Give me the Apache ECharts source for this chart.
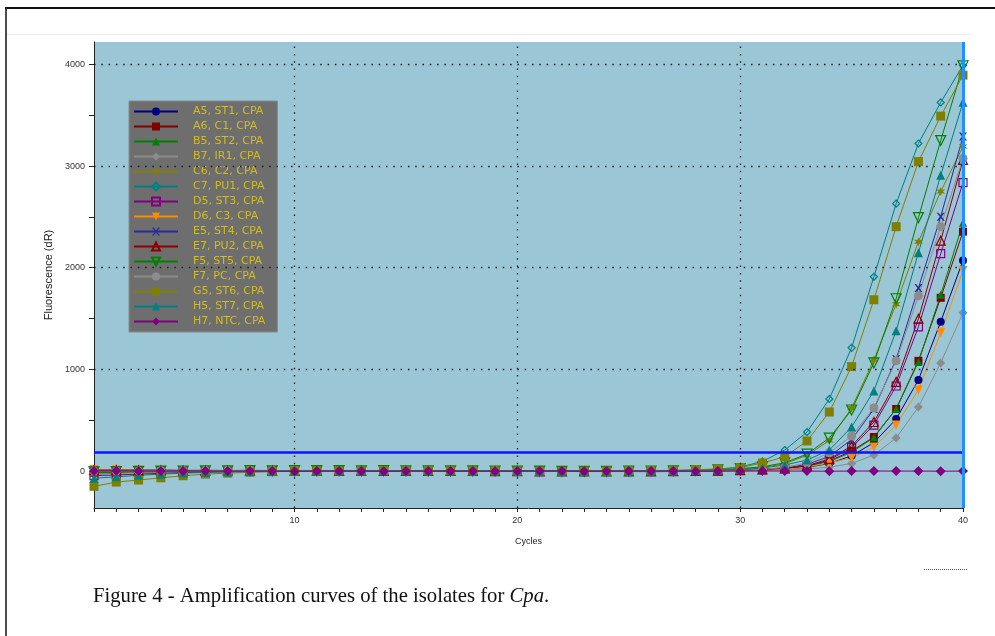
<!DOCTYPE html>
<html>
<head>
<meta charset="utf-8">
<script src="https://cdn.jsdelivr.net/npm/echarts@6/dist/echarts.min.js"></script>
<style>
  html, body { margin: 0; padding: 0; background: #ffffff; }
  #chart { width: 995px; height: 636px; }
</style>
</head>
<body>
<div id="chart"></div>
<script>
// Amplification cycles (x) and fluorescence readings (dR) per well
const cycles = [1,2,3,4,5,6,7,8,9,10,11,12,13,14,15,16,17,18,19,20,21,22,23,24,25,26,27,28,29,30,31,32,33,34,35,36,37,38,39,40];

const seriesNames = [
  'A5, ST1, CPA', 'A6, C1, CPA', 'B5, ST2, CPA', 'B7, IR1, CPA', 'C6, C2, CPA',
  'C7, PU1, CPA', 'D5, ST3, CPA', 'D6, C3, CPA', 'E5, ST4, CPA', 'E7, PU2, CPA',
  'F5, ST5, CPA', 'F7, PC, CPA', 'G5, ST6, CPA', 'H5, ST7, CPA', 'H7, NTC, CPA'
];

const A5_ST1 = [-12,-8,-4,2,0,3,2,4,3,2,4,5,3,2,1,3,4,2,1,3,2,0,-2,-3,-4,-5,-4,-2,2,8,14,22,36,75,150,280,512,897,1468,2072];
const A6_C1  = [8,10,9,8,7,8,6,7,6,5,6,4,5,6,5,3,4,5,4,2,3,1,0,-1,-2,-3,-2,0,4,10,18,28,48,100,197,335,611,1084,1704,2355];
const B5_ST2 = [-20,-14,-8,-4,-2,0,2,3,4,5,4,6,5,4,3,4,2,3,2,1,0,-1,-2,-2,-3,-3,-2,0,3,9,17,27,48,95,185,330,611,1074,1734,2443];
const B7_IR1 = [-5,-3,-2,0,1,2,3,2,3,4,3,2,3,2,1,2,1,0,1,0,-1,-2,-3,-4,-4,-5,-5,-4,-2,2,6,12,20,38,75,158,325,631,1064,1557];
const C6_C2  = [-30,-22,-15,-10,-6,-3,0,2,3,4,5,4,3,4,3,2,3,2,1,0,-1,-2,-3,-3,-2,-1,1,4,10,20,35,72,155,300,621,1094,1640,2256,2749,3192];
const C7_PU1 = [-10,-6,-3,0,2,3,4,5,4,5,4,3,4,3,2,3,2,1,2,1,0,-1,-2,-1,0,2,5,10,18,40,95,207,384,709,1212,1911,2630,3222,3626,3990];
const D5_ST3 = [-45,-38,-30,-22,-15,-10,-6,-3,-1,0,1,2,3,2,3,2,1,2,1,0,-1,-2,-3,-4,-4,-3,-2,0,3,8,14,24,48,110,230,453,837,1419,2138,2837];
const D6_C3  = [15,12,10,8,6,5,4,5,4,3,4,3,2,3,2,1,2,1,0,-1,-2,-3,-4,-5,-5,-4,-3,-1,1,5,10,18,40,80,130,236,453,798,1360,1973];
const E5_ST4 = [5,6,7,8,6,5,4,3,4,3,2,3,2,1,2,1,0,1,0,-1,-2,-2,-3,-3,-2,-1,0,2,5,10,18,32,65,145,310,610,1100,1800,2502,3291];
const E7_PU2 = [10,9,8,7,6,5,6,5,4,5,4,3,4,3,2,3,2,1,0,-1,-2,-3,-3,-4,-3,-2,-1,1,4,9,16,26,52,120,246,483,877,1498,2266,3060];
const F5_ST5 = [-8,-5,-2,0,1,2,3,4,3,4,5,4,3,4,3,2,3,2,1,0,-1,-2,-3,-2,-1,1,3,6,12,24,42,82,167,325,601,1064,1695,2493,3251,3985];
const F7_PC  = [0,1,2,3,2,3,4,3,4,3,2,3,2,3,2,1,2,1,0,-1,-2,-2,-3,-3,-2,-1,0,2,5,10,18,36,80,180,345,621,1084,1724,2404,3074];
const G5_ST6 = [-150,-108,-88,-66,-46,-30,-20,-12,-6,-2,0,2,3,4,3,4,3,2,1,0,-1,-2,-1,0,2,4,8,14,22,35,79,141,296,581,1028,1685,2404,3044,3491,3894];
const H5_ST7 = [-70,-56,-42,-30,-20,-13,-8,-4,-2,0,1,2,3,2,3,2,1,2,1,0,-1,-2,-3,-3,-2,-1,1,4,8,15,30,60,108,207,433,788,1379,2148,2909,3628];
const H7_NTC = [2,3,2,1,2,1,0,1,0,-1,0,1,0,-1,0,1,0,0,-1,0,1,0,-1,0,0,1,0,-1,0,0,1,0,0,-1,0,1,0,0,-1,0];

const readings = [A5_ST1, A6_C1, B5_ST2, B7_IR1, C6_C2, C7_PU1, D5_ST3, D6_C3,
                  E5_ST4, E7_PU2, F5_ST5, F7_PC, G5_ST6, H5_ST7, H7_NTC];

const threshold = 190;
const yLabelValues = [0, 1000, 2000, 3000, 4000];
const yTickValues = [0, 500, 1000, 1500, 2000, 2500, 3000, 3500, 4000];
const xGridValues = [10, 20, 30];
const yGridValues = [1000, 2000, 3000, 4000];

// Marker shapes
const STAR = 'path://M0,-10L2.2,-3.8L8.7,-5L4.4,0L8.7,5L2.2,3.8L0,10L-2.2,3.8L-8.7,5L-4.4,0L-8.7,-5L-2.2,-3.8Z';
const CROSS = 'path://M0,0H2.2L5,3.6L7.8,0H10L6.2,5L10,10H7.8L5,6.4L2.2,10H0L3.8,5Z';

// Per-well drawing style, same order as seriesNames
const looks = [
  { color: '#000080', symbol: 'circle',   size: 8 },
  { color: '#800000', symbol: 'rect',     size: 8 },
  { color: '#008000', symbol: 'triangle', size: 8 },
  { color: '#8c8c8c', symbol: 'diamond',  size: 9 },
  { color: '#808000', symbol: STAR,       size: 9 },
  { color: '#008080', symbol: 'diamond',  size: 7, hollow: true },
  { color: '#800080', symbol: 'rect',     size: 8, hollow: true },
  { color: '#ff8c00', symbol: 'triangle', size: 9, rotate: 180 },
  { color: '#2a2a9a', symbol: CROSS,      size: 8 },
  { color: '#8b0000', symbol: 'triangle', size: 9, hollow: true },
  { color: '#008000', symbol: 'triangle', size: 10, hollow: true, rotate: 180 },
  { color: '#8c8c8c', symbol: 'circle',   size: 9 },
  { color: '#808000', symbol: 'rect',     size: 9 },
  { color: '#008080', symbol: 'triangle', size: 9 },
  { color: '#800080', symbol: 'diamond',  size: 10 }
];

const curveSeries = seriesNames.map((name, i) => {
  const lk = looks[i];
  return {
    type: 'line',
    name: name,
    data: cycles.map((c, j) => [c, readings[i][j]]),
    symbol: lk.symbol,
    symbolSize: lk.size,
    symbolRotate: lk.rotate || 0,
    showAllSymbol: true,
    lineStyle: { color: lk.color, width: 1 },
    itemStyle: lk.hollow
      ? { color: 'rgba(0,0,0,0)', borderColor: lk.color, borderWidth: 1.2 }
      : { color: lk.color, borderWidth: 0 },
    emphasis: { disabled: true },
    z: 3
  };
});

const dotted = { color: '#1a1a1a', width: 1.3, type: [1.5, 5.8] };
const guideSeries = {
  type: 'line',
  name: 'guides',
  data: [],
  silent: true,
  z: 2,
  markLine: {
    silent: true,
    symbol: ['none', 'none'],
    label: { show: false },
    emphasis: { disabled: true },
    animation: false,
    data: [
      ...yGridValues.map(v => ({ yAxis: v, lineStyle: dotted })),
      ...xGridValues.map(v => ({ xAxis: v, lineStyle: dotted })),
      { yAxis: threshold, lineStyle: { color: '#0a14ff', width: 2.5, type: 'solid' } },
      { xAxis: 40, lineStyle: { color: '#1e90ff', width: 3, type: 'solid' } }
    ]
  }
};

const serif = 'Liberation Serif, Times New Roman, serif';
const chart = echarts.init(document.getElementById('chart'), null, { renderer: 'canvas' });

chart.setOption({
  animation: false,
  backgroundColor: '#ffffff',
  textStyle: { fontFamily: 'Liberation Sans, Arial, sans-serif' },
  title: {
    left: 93,
    top: 586,
    padding: 0,
    text: '{a|Figure 4 - Amplification curves of the isolates for }{b|Cpa}{a|.}',
    textStyle: {
      fontWeight: 'normal',
      rich: {
        a: { fontFamily: serif, fontSize: 20.7, fontWeight: 'normal', color: '#111' },
        b: { fontFamily: serif, fontSize: 20.7, fontWeight: 'normal', color: '#111', fontStyle: 'italic' }
      }
    }
  },
  graphic: [
    { type: 'line', shape: { x1: 5, y1: 8, x2: 995, y2: 8 }, style: { stroke: '#111', lineWidth: 2 }, silent: true },
    { type: 'line', shape: { x1: 6, y1: 8, x2: 6, y2: 636 }, style: { stroke: '#111', lineWidth: 1.5 }, silent: true },
    { type: 'line', shape: { x1: 7, y1: 34.5, x2: 971, y2: 34.5 }, style: { stroke: '#ececec', lineWidth: 1 }, silent: true },
    { type: 'line', shape: { x1: 924, y1: 569.5, x2: 968, y2: 569.5 }, style: { stroke: '#555', lineWidth: 1, lineDash: [1, 1] }, silent: true }
  ],
  legend: {
    data: seriesNames,
    orient: 'vertical',
    left: 129,
    top: 101,
    padding: [5, 12, 5, 4],
    itemWidth: 44,
    itemHeight: 10,
    itemGap: 4,
    backgroundColor: '#6e6e6e',
    borderColor: '#8a8a8a',
    borderWidth: 1,
    selectedMode: false,
    textStyle: {
      fontFamily: 'DejaVu Sans, sans-serif',
      fontSize: 11,
      lineHeight: 10,
      color: '#d2bd1e',
      padding: [0, 0, 0, 10]
    }
  },
  grid: {
    left: 94,
    right: 32,
    top: 42,
    bottom: 128,
    show: true,
    backgroundColor: '#9ac6d6',
    borderWidth: 0
  },
  xAxis: {
    type: 'value',
    min: 1,
    max: 40,
    interval: 1,
    name: 'Cycles',
    nameLocation: 'middle',
    nameGap: 29,
    nameTextStyle: { fontSize: 9, color: '#222' },
    axisLine: { onZero: false, lineStyle: { color: '#222', width: 1 } },
    axisTick: { show: true, length: 4, lineStyle: { color: '#222' } },
    axisLabel: {
      fontSize: 9,
      color: '#333',
      margin: 8,
      formatter: v => (v % 10 === 0 ? String(v) : '')
    },
    splitLine: { show: false }
  },
  yAxis: {
    type: 'value',
    min: -363,
    max: 4220,
    name: 'Fluorescence (dR)',
    nameLocation: 'middle',
    nameGap: 28,
    nameTextStyle: { fontSize: 11, color: '#222' },
    axisLine: { show: true, onZero: false, lineStyle: { color: '#222', width: 1 } },
    axisTick: { show: true, length: 5, customValues: yTickValues, lineStyle: { color: '#222' } },
    axisLabel: {
      fontSize: 9,
      color: '#333',
      margin: 9,
      customValues: yLabelValues,
      formatter: v => String(v)
    },
    splitLine: { show: false }
  },
  series: [guideSeries, ...curveSeries]
});
</script>
</body>
</html>
